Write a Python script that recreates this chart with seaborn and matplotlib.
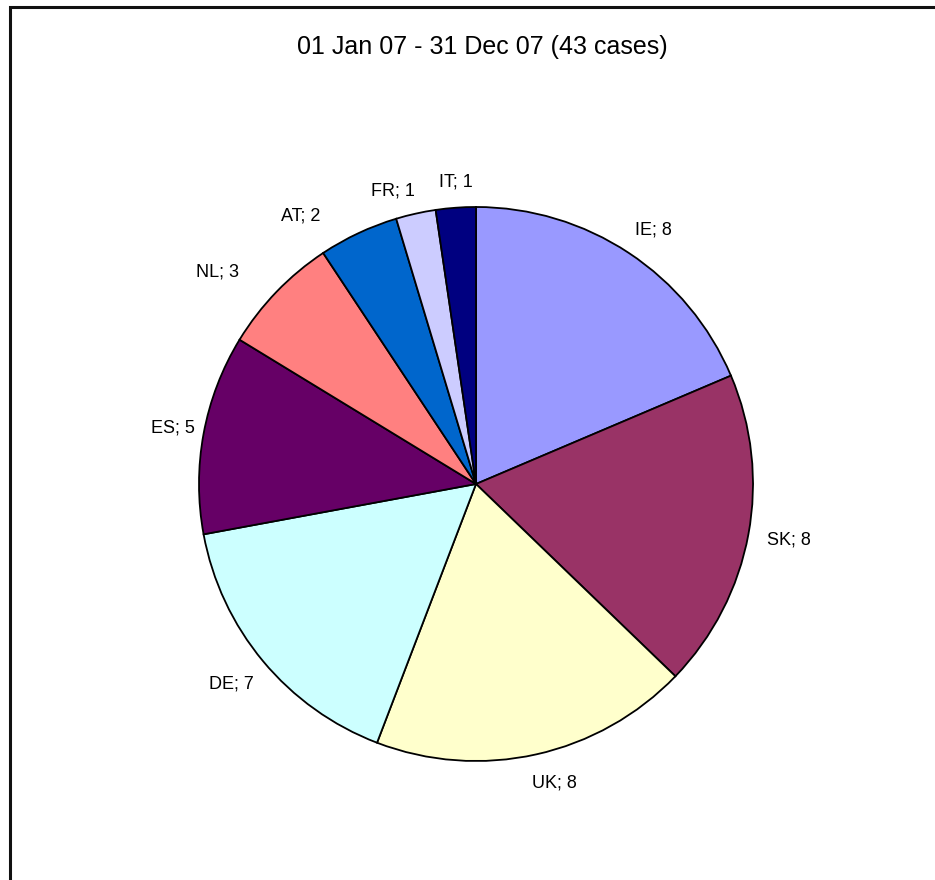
import matplotlib
matplotlib.use("Agg")
import numpy as np
import matplotlib.pyplot as plt
import seaborn as sns
from matplotlib.patches import Rectangle

# Cases per country, 01 Jan 07 - 31 Dec 07
countries = ["IE", "SK", "UK", "DE", "ES", "NL", "AT", "FR", "IT"]
cases = [8, 8, 8, 7, 5, 3, 2, 1, 1]
colors = ["#9999FF", "#993366", "#FFFFCC", "#CCFFFF", "#660066",
          "#FF8080", "#0066CC", "#CCCCFF", "#000080"]

# label nudges (px, x right / y up) applied after the radial placement
label_nudge = [(7, -3), (10, 0), (12, 0), (-5, 0), (0, 0),
               (-34, -4), (-45, -11), (-17, -6), (2, 0)]

sns.set_style("white")
plt.rcParams["font.family"] = ["Liberation Sans", "DejaVu Sans"]

W, H, DPI = 935, 880, 100
fig = plt.figure(figsize=(W / DPI, H / DPI), dpi=DPI)
fig.patch.set_facecolor("white")

ax = fig.add_axes([0, 0, 1, 1])
cx, cy, r = 476, 484, 277          # pie centre and radius in pixels
ax.set_axis_off()

wedges, _ = ax.pie(cases, colors=sns.color_palette(colors), startangle=90,
                   counterclock=False, radius=1.0, center=(0, 0),
                   wedgeprops=dict(edgecolor="black", linewidth=1.3),
                   frame=False)
ax.set_xlim(-cx / r, (W - cx) / r)
ax.set_ylim(-(H - cy) / r, cy / r)
ax.set_aspect("auto")

# "name; value" labels sit just outside each wedge, on its middle angle
fig.canvas.draw()
renderer = fig.canvas.get_renderer()
gap = 6  # px between rim and padded label box
for w, name, n, (nx, ny) in zip(wedges, countries, cases, label_nudge):
    mid = np.deg2rad((w.theta1 + w.theta2) / 2)
    t = ax.text(0, 0, f"{name}; {n}", ha="center", va="center",
                fontsize=13, color="black")
    bb = t.get_window_extent(renderer)
    hw, hh = bb.width / 2, bb.height / 2 + 10
    d = r + gap + hw * abs(np.cos(mid)) + hh * abs(np.sin(mid))
    t.set_position(((d * np.cos(mid) + nx) / r, (d * np.sin(mid) + ny) / r))

fig.text(482 / W, 1 - 47 / H, f"01 Jan 07 - 31 Dec 07 ({sum(cases)} cases)",
         ha="center", va="center", fontsize=18, color="black")

# chart area border (runs off the right and bottom edges)
fig.patches.append(Rectangle((9.5 / W, -0.05), 1.1, 1.05 - 7.5 / H,
                             transform=fig.transFigure, fill=False,
                             edgecolor="#111111", linewidth=2.2))

fig.savefig("out.png", dpi=DPI, facecolor="white")
